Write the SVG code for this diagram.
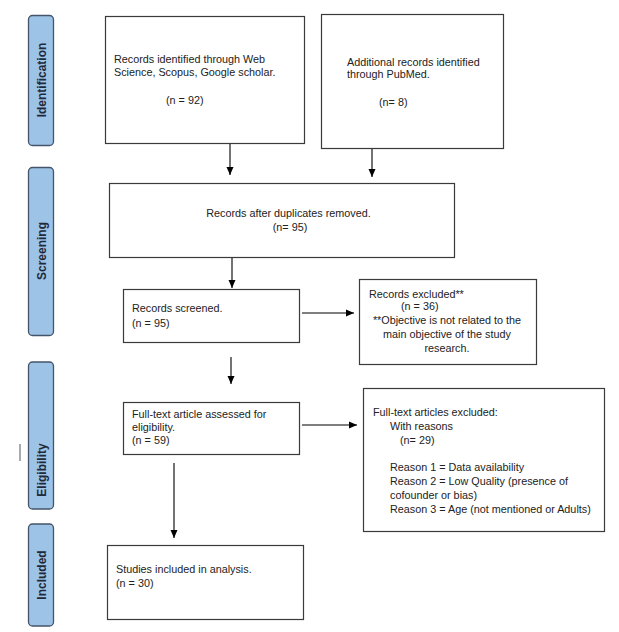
<svg xmlns="http://www.w3.org/2000/svg" width="619" height="632" viewBox="0 0 619 632">
<defs>
<marker id="ah" markerWidth="8" markerHeight="8" refX="8" refY="3.5" orient="auto" markerUnits="userSpaceOnUse" viewBox="0 0 8 7">
<path d="M0,0 L8,3.5 L0,7 Z" fill="#000"/>
</marker>
</defs>
<style>
.box{fill:#fff;stroke:#3a3a3a;stroke-width:1.2}
.lab{fill:#9dc3e6;stroke:#44546a;stroke-width:1.3}
.t{font-family:"Liberation Sans",Arial,sans-serif;font-size:10.8px;fill:#222}
.lt{font-family:"Liberation Sans",Arial,sans-serif;font-size:12px;font-weight:bold;fill:#1f2a3a}
.c{stroke:#000;stroke-width:1.1;fill:none;marker-end:url(#ah)}
</style>
<rect width="619" height="632" fill="#fff"/>
<g id="label-identification">
<rect class="lab" x="28.5" y="15.5" width="25" height="130" rx="4"/>
<text class="lt" transform="translate(45.5,80) rotate(-90)" text-anchor="middle">Identification</text>
</g>
<g id="label-screening">
<rect class="lab" x="28.5" y="167.5" width="25" height="168" rx="4"/>
<text class="lt" transform="translate(45.5,251) rotate(-90)" text-anchor="middle">Screening</text>
</g>
<g id="label-eligibility">
<rect class="lab" x="28.5" y="362" width="25" height="147" rx="4"/>
<text class="lt" transform="translate(45.5,470) rotate(-90)" text-anchor="middle">Eligibility</text>
</g>
<g id="label-included">
<rect class="lab" x="28.5" y="524" width="25" height="102" rx="4"/>
<text class="lt" transform="translate(45.5,575) rotate(-90)" text-anchor="middle">Included</text>
</g>
<line x1="20" y1="444" x2="20" y2="461" stroke="#555" stroke-width="1"/>
<g id="n1">
<rect class="box" x="105.5" y="16.5" width="199" height="127"/>
<text class="t" x="114" y="63">Records identified through Web</text>
<text class="t" x="114" y="76">Science, Scopus, Google scholar.</text>
<text class="t" x="166" y="104">(n = 92)</text>
</g>
<g id="n2">
<rect class="box" x="321.5" y="14.5" width="182" height="134"/>
<text class="t" x="347" y="66">Additional records identified</text>
<text class="t" x="347" y="78">through PubMed.</text>
<text class="t" x="379" y="106">(n= 8)</text>
</g>
<g id="n3">
<rect class="box" x="109.5" y="183.5" width="345" height="74"/>
<text class="t" x="288.5" y="217" text-anchor="middle">Records after duplicates removed.</text>
<text class="t" x="290" y="231" text-anchor="middle">(n= 95)</text>
</g>
<g id="n4">
<rect class="box" x="123.5" y="289.5" width="176" height="53"/>
<text class="t" x="132" y="312">Records screened.</text>
<text class="t" x="132" y="327">(n = 95)</text>
</g>
<g id="n5">
<rect class="box" x="359.5" y="279.5" width="177" height="85"/>
<text class="t" x="369" y="298">Records excluded**</text>
<text class="t" x="401" y="310">(n = 36)</text>
<text class="t" x="447" y="324" text-anchor="middle">**Objective is not related to the</text>
<text class="t" x="447" y="338" text-anchor="middle">main objective of the study</text>
<text class="t" x="447" y="352" text-anchor="middle">research.</text>
</g>
<g id="n6">
<rect class="box" x="123.5" y="402.5" width="176" height="52"/>
<text class="t" x="132" y="418">Full-text article assessed for</text>
<text class="t" x="132" y="431">eligibility.</text>
<text class="t" x="132" y="444">(n = 59)</text>
</g>
<g id="n7">
<rect class="box" x="363.5" y="388.5" width="241" height="143"/>
<text class="t" x="373" y="416">Full-text articles excluded:</text>
<text class="t" x="390" y="430">With reasons</text>
<text class="t" x="400" y="444">(n= 29)</text>
<text class="t" x="390" y="471">Reason 1 = Data availability</text>
<text class="t" x="390" y="485">Reason 2 = Low Quality (presence of</text>
<text class="t" x="390" y="499">cofounder or bias)</text>
<text class="t" x="390" y="513">Reason 3 = Age (not mentioned or Adults)</text>
</g>
<g id="n8">
<rect class="box" x="107.5" y="545.5" width="196" height="74"/>
<text class="t" x="116" y="573">Studies included in analysis.</text>
<text class="t" x="116" y="587">(n = 30)</text>
</g>
<g id="connectors">
<line class="c" x1="230" y1="144" x2="230" y2="175"/>
<line class="c" x1="372" y1="149" x2="372" y2="177"/>
<line class="c" x1="232" y1="258" x2="232" y2="288"/>
<line class="c" x1="302" y1="313" x2="354" y2="313"/>
<line class="c" x1="231" y1="357" x2="231" y2="384"/>
<line class="c" x1="302" y1="425" x2="357" y2="425"/>
<line class="c" x1="174" y1="463" x2="174" y2="538"/>
</g>
</svg>
